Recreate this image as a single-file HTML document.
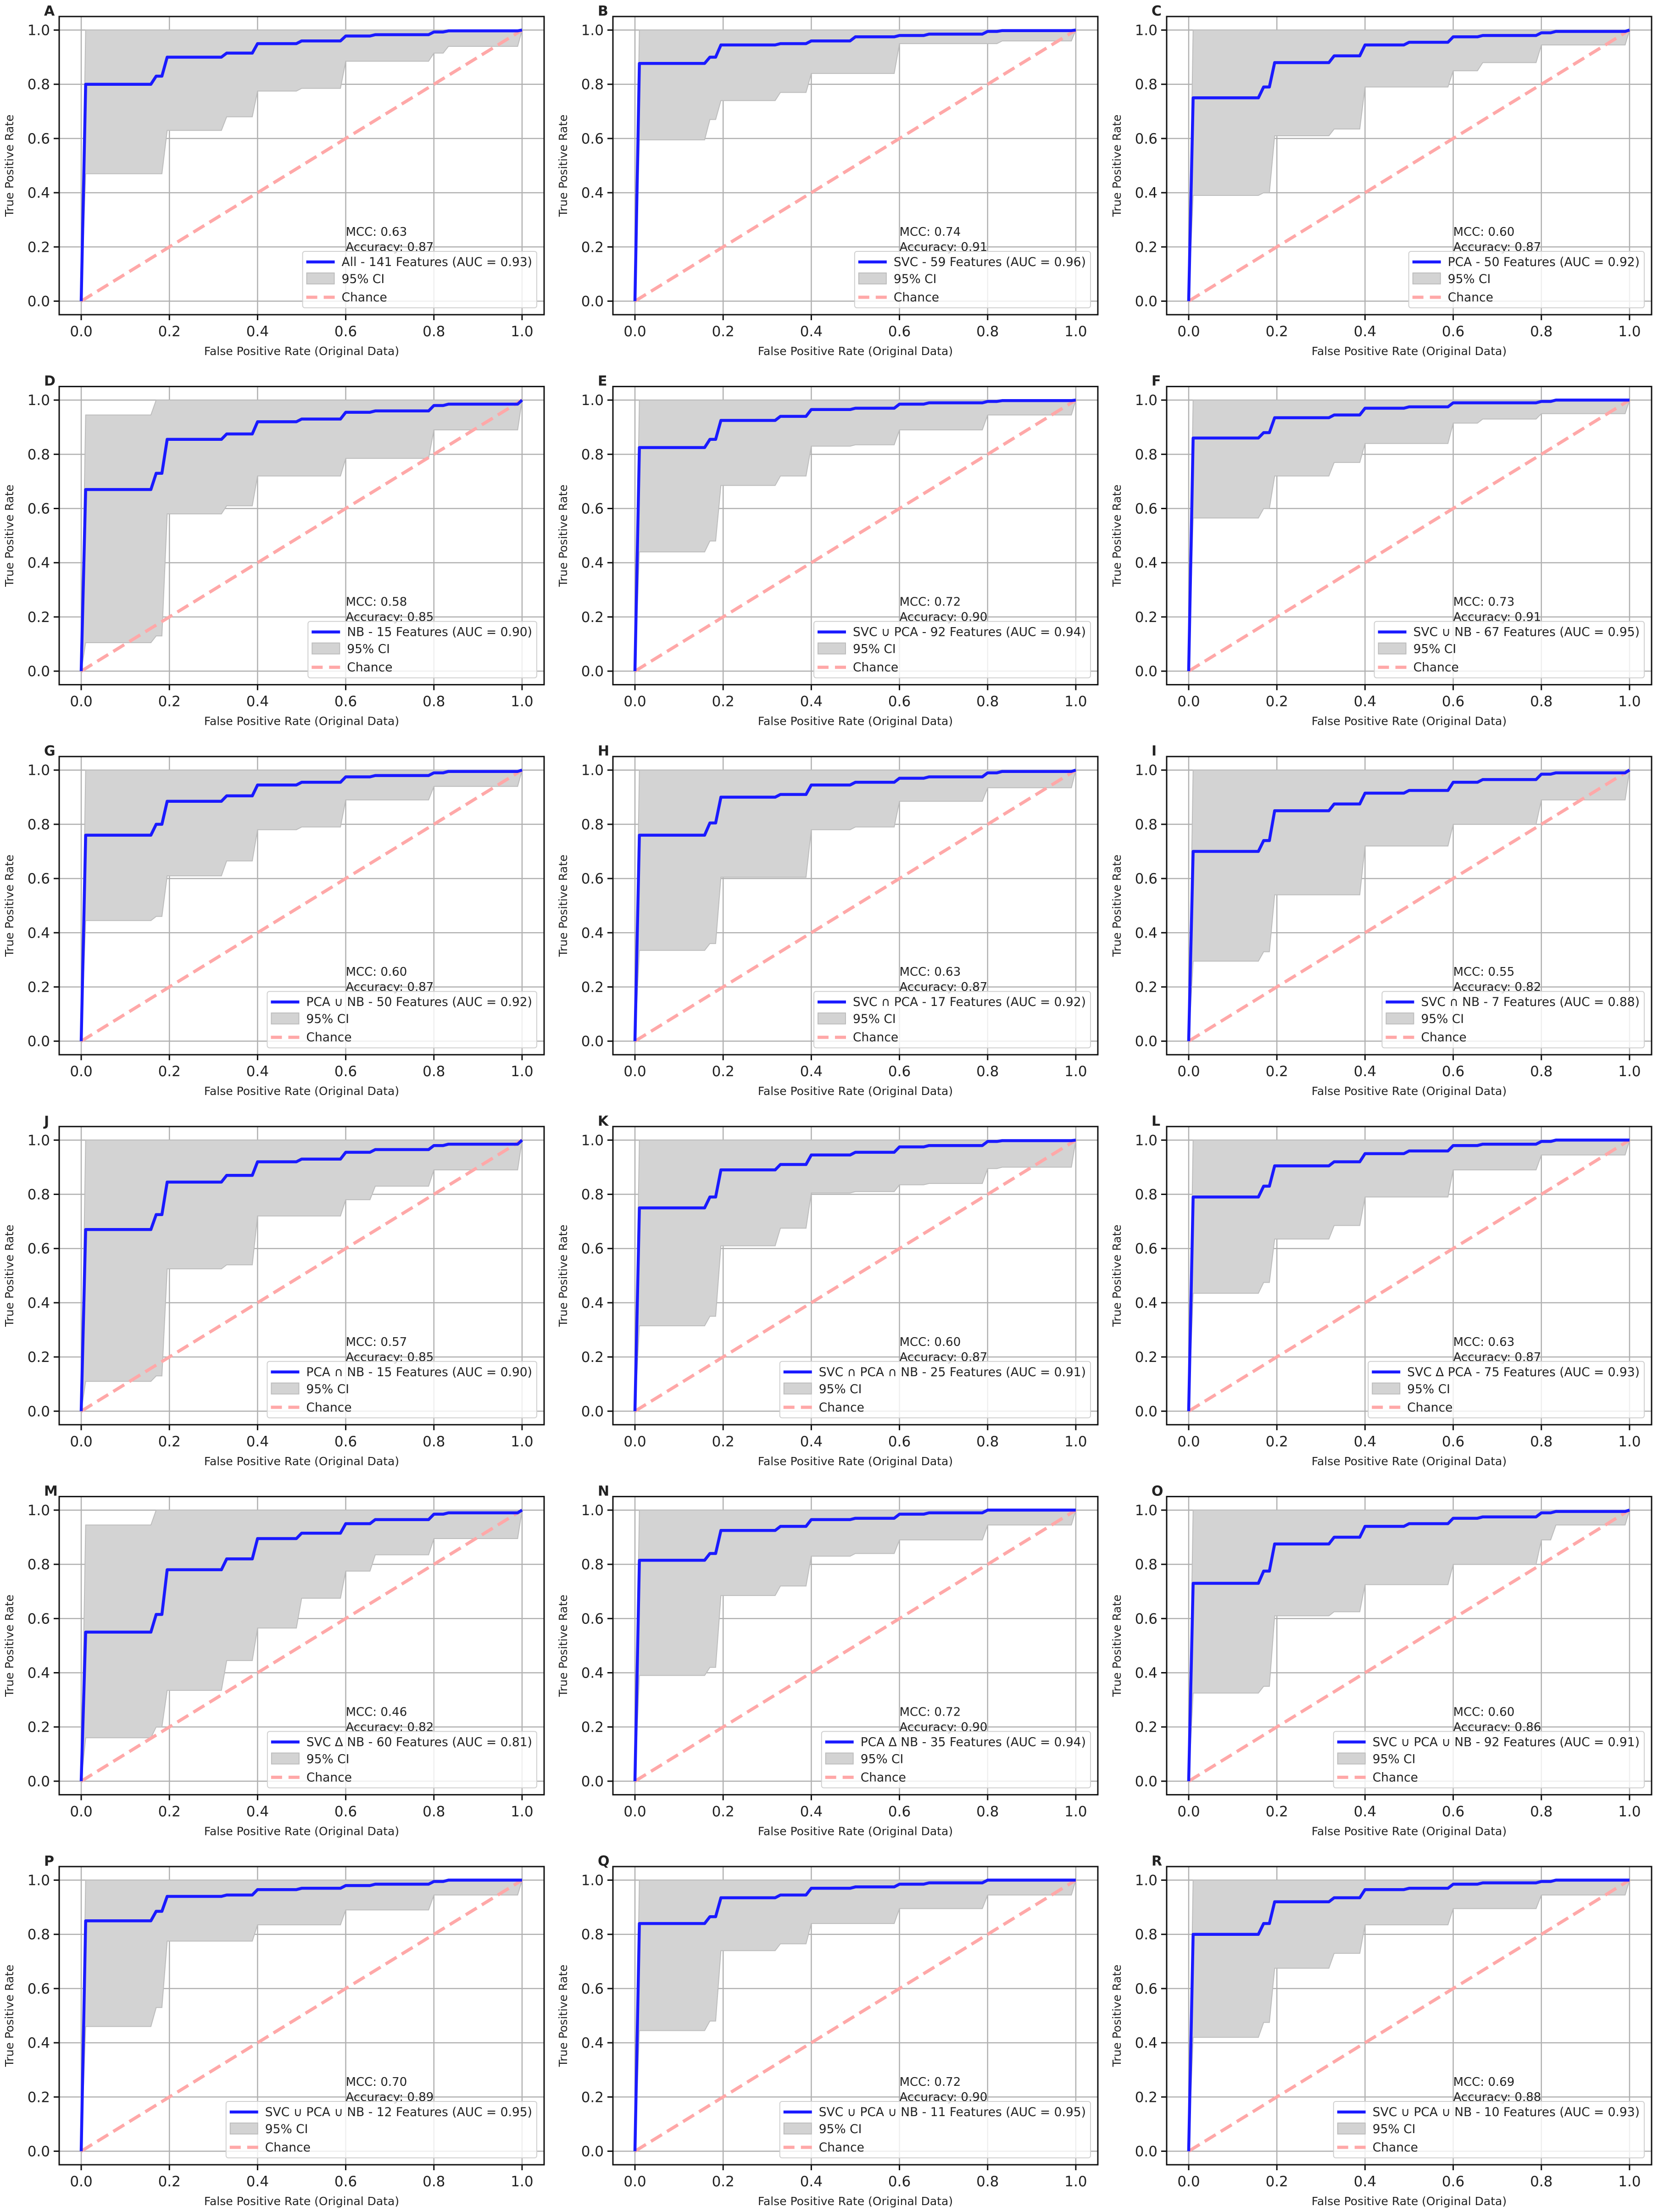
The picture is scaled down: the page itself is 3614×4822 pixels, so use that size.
<!DOCTYPE html>
<html><head><meta charset="utf-8">
<style>
html,body{margin:0;padding:0;background:#fff;}
svg{display:block;}
text{font-family:"DejaVu Sans","Liberation Sans",sans-serif;fill:#222;}
</style></head>
<body>
<svg id="fig" xmlns="http://www.w3.org/2000/svg" width="3614" height="4822" viewBox="0 0 3614 4822"></svg>
<script>
const panelLetters = ["A","B","C","D","E","F","G","H","I","J","K","L","M","N","O","P","Q","R"];
const legendLabels = [
 "All - 141 Features (AUC = 0.93)","SVC - 59 Features (AUC = 0.96)","PCA - 50 Features (AUC = 0.92)",
 "NB - 15 Features (AUC = 0.90)","SVC \u222A PCA - 92 Features (AUC = 0.94)","SVC \u222A NB - 67 Features (AUC = 0.95)",
 "PCA \u222A NB - 50 Features (AUC = 0.92)","SVC \u2229 PCA - 17 Features (AUC = 0.92)","SVC \u2229 NB - 7 Features (AUC = 0.88)",
 "PCA \u2229 NB - 15 Features (AUC = 0.90)","SVC \u2229 PCA \u2229 NB - 25 Features (AUC = 0.91)","SVC \u0394 PCA - 75 Features (AUC = 0.93)",
 "SVC \u0394 NB - 60 Features (AUC = 0.81)","PCA \u0394 NB - 35 Features (AUC = 0.94)","SVC \u222A PCA \u222A NB - 92 Features (AUC = 0.91)",
 "SVC \u222A PCA \u222A NB - 12 Features (AUC = 0.95)","SVC \u222A PCA \u222A NB - 11 Features (AUC = 0.95)","SVC \u222A PCA \u222A NB - 10 Features (AUC = 0.93)"];
const mccValues = ["0.63","0.74","0.60","0.58","0.72","0.73","0.60","0.63","0.55","0.57","0.60","0.63","0.46","0.72","0.60","0.70","0.72","0.69"];
const accValues = ["0.87","0.91","0.87","0.85","0.90","0.91","0.87","0.87","0.82","0.85","0.87","0.87","0.82","0.90","0.86","0.89","0.90","0.88"];
const segX = [0.01,0.17,0.195,0.33,0.4,0.5,0.6,0.667,0.8,0.833];
const tprLevels = [
 [.80,.83,.90,.915,.95,.96,.978,.983,.993,.997],
 [.877,.90,.945,.95,.96,.975,.98,.985,.995,.998],
 [.75,.79,.88,.905,.945,.955,.975,.98,.99,.995],
 [.67,.73,.855,.875,.92,.93,.955,.96,.98,.985],
 [.825,.855,.925,.94,.965,.97,.985,.99,.995,.998],
 [.86,.88,.935,.945,.97,.975,.99,.99,.995,1.0],
 [.76,.80,.885,.905,.945,.955,.975,.98,.99,.995],
 [.76,.805,.90,.91,.945,.955,.97,.975,.99,.995],
 [.70,.74,.85,.875,.915,.925,.955,.965,.985,.99],
 [.67,.725,.845,.87,.92,.93,.955,.965,.98,.985],
 [.75,.79,.89,.91,.945,.955,.975,.98,.995,.998],
 [.79,.83,.905,.92,.95,.96,.98,.985,.995,1.0],
 [.55,.615,.78,.82,.895,.915,.95,.965,.985,.99],
 [.815,.84,.925,.94,.965,.97,.985,.99,1.0,1.0],
 [.73,.775,.875,.90,.94,.95,.97,.975,.99,.995],
 [.85,.885,.94,.945,.965,.97,.98,.985,.995,1.0],
 [.84,.865,.935,.945,.97,.975,.985,.99,1.0,1.0],
 [.80,.84,.92,.935,.965,.97,.985,.99,.995,1.0]];
const ciLower = [
 [.47,.47,.63,.68,.775,.785,.885,.885,.915,.94],
 [.595,.67,.74,.77,.84,.84,.95,.95,.95,.96],
 [.39,.40,.61,.635,.79,.79,.85,.88,.945,.945],
 [.105,.13,.58,.61,.72,.72,.785,.785,.89,.89],
 [.44,.48,.685,.72,.83,.835,.89,.89,.945,.945],
 [.565,.60,.72,.77,.84,.84,.915,.93,.95,.95],
 [.445,.46,.61,.665,.78,.79,.89,.89,.94,.94],
 [.335,.36,.605,.605,.78,.79,.885,.885,.935,.935],
 [.295,.33,.54,.54,.72,.72,.80,.80,.89,.89],
 [.11,.13,.525,.54,.72,.72,.78,.83,.89,.89],
 [.315,.35,.61,.675,.805,.81,.835,.84,.895,.90],
 [.435,.475,.635,.685,.79,.79,.89,.89,.945,.945],
 [.16,.20,.335,.445,.565,.675,.775,.835,.895,.895],
 [.39,.42,.685,.72,.83,.84,.89,.89,.945,.945],
 [.325,.35,.61,.625,.725,.725,.80,.80,.89,.945],
 [.46,.53,.775,.775,.835,.835,.89,.89,.945,.945],
 [.445,.48,.74,.765,.84,.84,.895,.895,.945,.945],
 [.42,.475,.675,.73,.835,.835,.895,.895,.945,.945]];
const ciUpper = [
 [1,1,1,1,1,1,1,1,1,1],[1,1,1,1,1,1,1,1,1,1],[1,1,1,1,1,1,1,1,1,1],
 [.945,1,1,1,1,1,1,1,1,1],[1,1,1,1,1,1,1,1,1,1],[1,1,1,1,1,1,1,1,1,1],
 [1,1,1,1,1,1,1,1,1,1],[1,1,1,1,1,1,1,1,1,1],[1,1,1,1,1,1,1,1,1,1],
 [1,1,1,1,1,1,1,1,1,1],[1,1,1,1,1,1,1,1,1,1],[1,1,1,1,1,1,1,1,1,1],
 [.945,1,1,1,1,1,1,1,1,1],[1,1,1,1,1,1,1,1,1,1],[1,1,1,1,1,1,1,1,1,1],
 [1,1,1,1,1,1,1,1,1,1],[1,1,1,1,1,1,1,1,1,1],[1,1,1,1,1,1,1,1,1,1]];
const tickValues = [0,0.2,0.4,0.6,0.8,1.0];
const tickLabels = ["0.0","0.2","0.4","0.6","0.8","1.0"];

const NS = "http://www.w3.org/2000/svg";
const fig = document.getElementById("fig");
function mk(tag, attrs, parent){
  const e = document.createElementNS(NS, tag);
  for (const k in attrs) e.setAttribute(k, attrs[k]);
  (parent||fig).appendChild(e);
  return e;
}
const W = 1057, H = 650;

function stepPoints(levels, sx, sy){
  const pts = [[sx(0), sy(0)], [sx(segX[0]), sy(levels[0])]];
  for (let k = 1; k < segX.length; k++){
    pts.push([sx(segX[k]-0.012), sy(levels[k-1])]);
    pts.push([sx(segX[k]), sy(levels[k])]);
  }
  pts.push([sx(0.99), sy(levels[levels.length-1])]);
  pts.push([sx(1), sy(1)]);
  return pts;
}

for (let i = 0; i < 18; i++){
  const r = Math.floor(i/3), c = i%3;
  const L = 129 + 1207*c, T = 36 + 806.6*r, B = T + H, R = L + W;
  const sx = v => L + W*(v+0.05)/1.1;
  const sy = v => T + H*(1.05-v)/1.1;
  const g = mk("g", {});
  
  

  tickValues.forEach(v => {
    const gx = mk("line", {x1:sx(v), x2:sx(v), y1:T, y2:B, stroke:"#b0b0b0", "stroke-width":2.5}, g);
    
    
    const gy = mk("line", {x1:L, x2:R, y1:sy(v), y2:sy(v), stroke:"#b0b0b0", "stroke-width":2.5}, g);
    
    
  });

  const up = stepPoints(ciUpper[i], sx, sy);
  const lo = stepPoints(ciLower[i], sx, sy).reverse();
  const band = mk("polygon", {points: up.concat(lo).map(p=>p[0].toFixed(1)+","+p[1].toFixed(1)).join(" "),
    fill:"#d3d3d3", stroke:"#bdbdbd", "stroke-width":2}, g);
  
  

  const ch = mk("line", {x1:sx(0), y1:sy(0), x2:sx(1), y2:sy(1), stroke:"#ffa8a8", "stroke-width":7, "stroke-dasharray":"28 13"}, g);
  
  

  const cp = stepPoints(tprLevels[i], sx, sy);
  const roc = mk("polyline", {points: cp.map(p=>p[0].toFixed(1)+","+p[1].toFixed(1)).join(" "),
    fill:"none", stroke:"#1a1aff", "stroke-width":6.5, "stroke-linejoin":"round"}, g);
  
  

  const fr = mk("rect", {x:L, y:T, width:W, height:H, fill:"none", stroke:"#111", "stroke-width":3}, g);
  
  

  tickValues.forEach((v, k) => {
    mk("line", {x1:sx(v), x2:sx(v), y1:B, y2:B+12, stroke:"#111", "stroke-width":3}, g);
    const xt = mk("text", {x:sx(v), y:B+47, "font-size":31, "text-anchor":"middle"}, g);
    xt.textContent = tickLabels[k];
    
    
    mk("line", {x1:L-12, x2:L, y1:sy(v), y2:sy(v), stroke:"#111", "stroke-width":3}, g);
    const yt = mk("text", {x:L-20, y:sy(v)+11, "font-size":31, "text-anchor":"end"}, g);
    yt.textContent = tickLabels[k];
    
    
  });

  const xl = mk("text", {x:(L+R)/2, y:B+88, "font-size":25, "text-anchor":"middle"}, g);
  xl.textContent = "False Positive Rate (Original Data)";
  
  
  const ycx = L-100, ycy = (T+B)/2;
  const yl = mk("text", {x:ycx, y:ycy, "font-size":25, "text-anchor":"middle", transform:`rotate(-90 ${ycx} ${ycy})`}, g);
  yl.textContent = "True Positive Rate";
  
  

  const pl = mk("text", {x:L-33, y:T-2, "font-size":30, "font-weight":"bold", fill:"#000"}, g);
  pl.textContent = panelLetters[i];
  
  

  const m1 = mk("text", {x:sx(0.6), y:B-172, "font-size":26}, g);
  m1.textContent = "MCC: " + mccValues[i];
  
  
  const m2 = mk("text", {x:sx(0.6), y:B-139, "font-size":26}, g);
  m2.textContent = "Accuracy: " + accValues[i];
  
  

  const lg = mk("g", {}, g);
  
  
  const box = mk("rect", {rx:5, ry:5, fill:"#fff", "fill-opacity":0.8, stroke:"#d0d0d0", "stroke-width":2}, lg);
  const t1 = mk("text", {"font-size":26.5}, lg);
  t1.textContent = legendLabels[i];
  
  
  const tw = t1.getComputedTextLength();
  const lw = 85 + tw + 10, lh = 123;
  const lx = R - 16 - lw, ly = B - 15 - lh;
  box.setAttribute("x", lx); box.setAttribute("y", ly);
  box.setAttribute("width", lw); box.setAttribute("height", lh);
  t1.setAttribute("x", lx+85); t1.setAttribute("y", ly+32);
  mk("line", {x1:lx+8, x2:lx+70, y1:ly+23, y2:ly+23, stroke:"#1a1aff", "stroke-width":6.5}, lg);
  mk("rect", {x:lx+9, y:ly+47, width:60, height:24, fill:"#d3d3d3", stroke:"#bdbdbd", "stroke-width":2}, lg);
  const t2 = mk("text", {x:lx+85, y:ly+69, "font-size":26.5}, lg);
  t2.textContent = "95% CI";
  
  
  mk("line", {x1:lx+8, x2:lx+70, y1:ly+100, y2:ly+100, stroke:"#ffa8a8", "stroke-width":7, "stroke-dasharray":"24 14"}, lg);
  const t3 = mk("text", {x:lx+85, y:ly+109, "font-size":26.5}, lg);
  t3.textContent = "Chance";
  
  
}
</script>
</body></html>
